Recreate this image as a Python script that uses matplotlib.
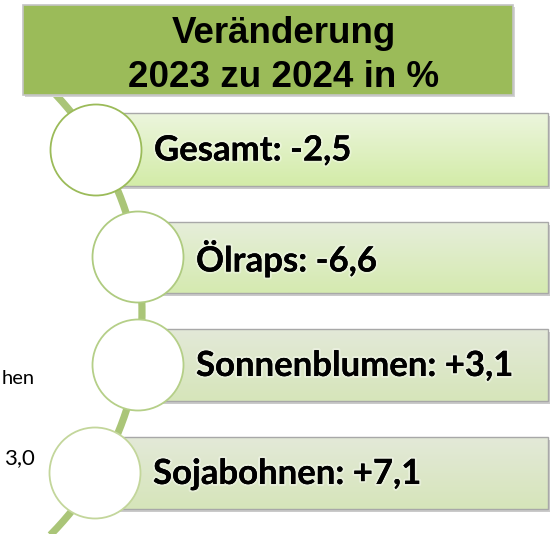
import numpy as np
import matplotlib
matplotlib.use("Agg")
import matplotlib.pyplot as plt
from matplotlib.patches import Rectangle, Circle
import matplotlib.patheffects as pe

# ---- data ----
title_lines = ["Veränderung", "2023 zu 2024 in %"]
categories = ["Gesamt", "Ölraps", "Sonnenblumen", "Sojabohnen"]
values = [-2.5, -6.6, 3.1, 7.1]
side_fragments = ["hen", "3,0"]

def fmt(v):
    s = f"{abs(v):.1f}".replace(".", ",")
    return ("+" if v > 0 else "-") + s

W, H = 556, 534
fig = plt.figure(figsize=(W / 100, H / 100), dpi=100)
ax = fig.add_axes([0, 0, 1, 1])
ax.set_xlim(0, W)
ax.set_ylim(H, 0)
ax.axis("off")

# ---- arc (timeline) ----
cx, cy, R = -175, 312, 317
t0 = np.arcsin((88 - cy) / R)
t = np.linspace(t0, np.pi / 2, 400)
ax.plot(cx + R * np.cos(t), cy + R * np.sin(t), color="#AAC578", lw=5.2,
        solid_capstyle="butt", zorder=1)

# ---- header ----
ax.add_patch(Rectangle((25, 7), 490, 90, facecolor="#D4D4D4", edgecolor="none", zorder=2))
ax.add_patch(Rectangle((23, 5), 490, 90, facecolor="#9BBB59", edgecolor="#C4C4C4", lw=1.2, zorder=3))
ax.text(284, 43, title_lines[0], ha="center", va="baseline", fontsize=26.5,
        fontweight="bold", family="Liberation Sans", color="black", zorder=4)
ax.text(284, 87, title_lines[1], ha="center", va="baseline", fontsize=26.5,
        fontweight="bold", family="Liberation Sans", color="black", zorder=4)

# ---- rows ----
box_tops = [113, 222, 329, 437]
box_h = [73, 71, 72, 72]
centers = [(96, 150), (138, 257), (138, 365), (95, 473)]
grad_top = ["#ECF5DD", "#E6EEDA", "#E3E9D8", "#E3E9D8"]
grad_bot = ["#D3ECA8", "#D5EAB0", "#D6E5BA", "#D6E5BA"]
circ_edge = ["#9BBB59", "#AFCB80", "#B5CF88", "#C3D69B"]
right = 548

def hex2rgb(h):
    return np.array([int(h[i:i + 2], 16) / 255 for i in (1, 3, 5)])

for i, (cat, val) in enumerate(zip(categories, values)):
    x0 = centers[i][0]
    y0 = box_tops[i]
    h = box_h[i]
    w = right - x0
    # shadow
    ax.add_patch(Rectangle((x0 + 2, y0 + 3), w, h, facecolor="#BDBDBD",
                           edgecolor="none", alpha=0.8, zorder=2))
    rect = Rectangle((x0, y0), w, h, facecolor="none", edgecolor="#A8A8A8",
                     lw=1.0, zorder=4)
    c1, c2 = hex2rgb(grad_top[i]), hex2rgb(grad_bot[i])
    g = np.linspace(0, 1, 64)[:, None, None]
    img = c1 * (1 - g) + c2 * g
    im = ax.imshow(img, extent=(x0, right, y0 + h, y0), aspect="auto",
                   zorder=3, interpolation="bilinear")
    clip = Rectangle((x0, y0), w, h, transform=ax.transData)
    im.set_clip_path(clip)
    ax.add_patch(rect)
    ax.text(x0 + 58, y0 + h / 2 + 1, f"{cat}: {fmt(val)}", ha="left", va="center",
            fontsize=25, fontweight="bold", family="Lato", color="black", zorder=6,
            path_effects=[pe.withStroke(linewidth=3, foreground=(1, 1, 1, 0.35)), pe.Normal()])
    ax.add_patch(Circle(centers[i], 45.5, facecolor="white", edgecolor=circ_edge[i],
                        lw=1.3, zorder=5))

ax.set_xlim(0, W)
ax.set_ylim(H, 0)

# ---- cut-off side text ----
ax.text(2, 378, side_fragments[0], ha="left", va="center", fontsize=14.5,
        family="Lato", color="black")
ax.text(4, 458, side_fragments[1], ha="left", va="center", fontsize=16,
        family="Lato", color="black")

fig.savefig("out.png", dpi=100)
